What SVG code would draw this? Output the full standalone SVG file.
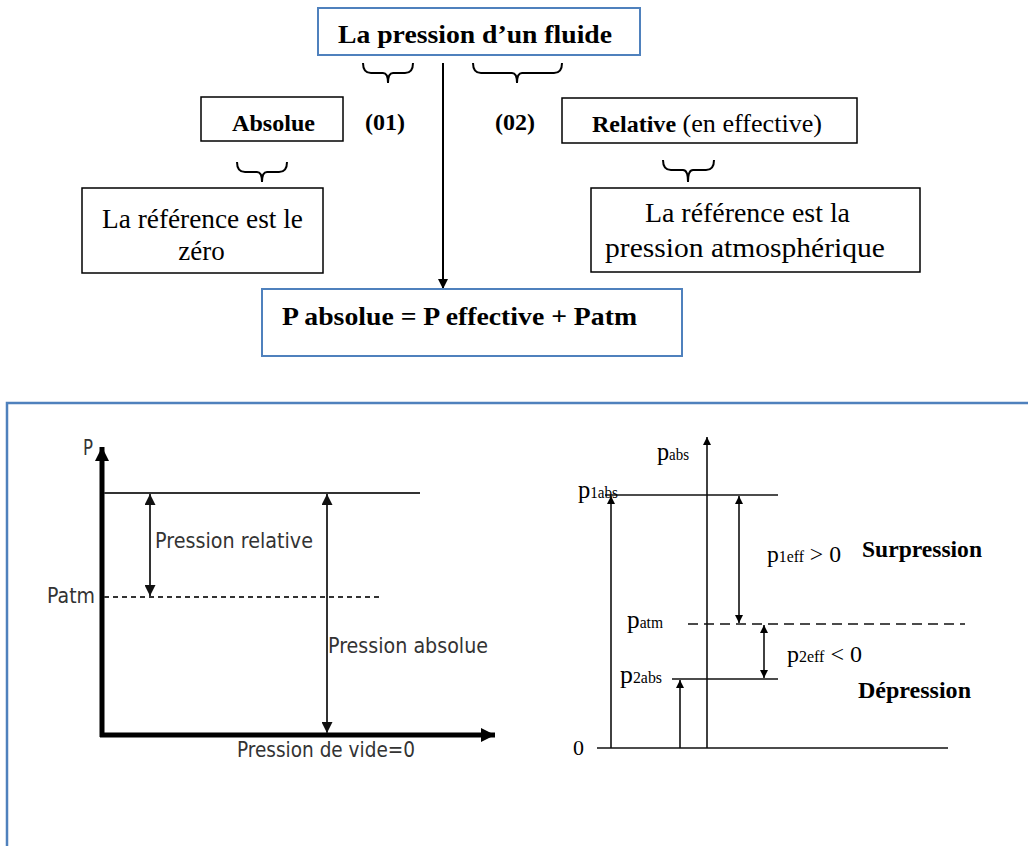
<svg xmlns="http://www.w3.org/2000/svg" width="1028" height="846" viewBox="0 0 1028 846">
<style>
.blue{fill:#fff;stroke:#4f81bd;stroke-width:2}
.box{fill:#fff;stroke:#000;stroke-width:1.5}
.brace{fill:none;stroke:#000;stroke-width:2}
.tb{font-family:"Liberation Serif",serif;font-weight:bold;fill:#000}
.tr{font-family:"Liberation Serif",serif;fill:#000}
.ts{font-family:"DejaVu Sans","Liberation Sans",sans-serif;fill:#333;font-size:21px}
.ln{stroke:#333;stroke-width:2;fill:none}
.rl{stroke:#111;stroke-width:1.6;fill:none}
.sub{font-size:16px}
</style>
<defs>
<marker id="ahL" viewBox="0 0 10 10" refX="10" refY="5" markerUnits="userSpaceOnUse" markerWidth="13" markerHeight="11" orient="auto-start-reverse">
<path d="M0,0 L10,5 L0,10 z" fill="#111"/>
</marker>
<marker id="ahR" viewBox="0 0 10 10" refX="10" refY="5" markerUnits="userSpaceOnUse" markerWidth="12" markerHeight="8" orient="auto-start-reverse">
<path d="M0,0 L10,5 L0,10 z" fill="#000"/>
</marker>
<marker id="ahB" viewBox="0 0 10 10" refX="10" refY="5" markerUnits="userSpaceOnUse" markerWidth="16" markerHeight="14" orient="auto">
<path d="M0,0 L10,5 L0,10 z" fill="#000"/>
</marker>
<marker id="ahT" viewBox="0 0 10 10" refX="10" refY="5" markerUnits="userSpaceOnUse" markerWidth="16" markerHeight="10" orient="auto">
<path d="M0,0 L10,5 L0,10 z" fill="#000"/>
</marker>
</defs>

<g id="connectors">
<line x1="443" y1="63" x2="443" y2="289" stroke="#000" stroke-width="2" marker-end="url(#ahT)"/>
<path class="brace" d="M363,63 Q363,73 371,73 L383,73 Q388,73 388,83 Q388,73 393,73 L405,73 Q413,73 413,63"/>
<path class="brace" d="M473,63 Q473,73 481,73 L512,73 Q517,73 517,83 Q517,73 522,73 L554,73 Q562,73 562,63"/>
<path class="brace" d="M237,162 Q237,172 245,172 L257,172 Q262,172 262,182 Q262,172 267,172 L279,172 Q287,172 287,162"/>
<path class="brace" d="M663,160 Q663,170 671,170 L683,170 Q688,170 688,182 Q688,170 693,170 L706,170 Q714,170 714,160"/>
</g>

<g id="node-fluide">
<rect class="blue" x="318" y="8" width="322" height="47"/>
<text class="tb" x="338" y="43" font-size="26" textLength="274" lengthAdjust="spacingAndGlyphs">La pression d’un fluide</text>
</g>

<g id="node-absolue">
<rect class="box" x="201" y="97" width="142" height="44"/>
<text class="tb" x="232" y="131" font-size="23" textLength="83" lengthAdjust="spacingAndGlyphs">Absolue</text>
</g>

<g id="label-01"><text class="tb" x="365" y="130" font-size="23" textLength="40" lengthAdjust="spacingAndGlyphs">(01)</text></g>
<g id="label-02"><text class="tb" x="495" y="130" font-size="23" textLength="40" lengthAdjust="spacingAndGlyphs">(02)</text></g>

<g id="node-relative">
<rect class="box" x="562" y="98" width="295" height="45"/>
<text class="tr" x="592" y="132" font-size="25" textLength="230" lengthAdjust="spacingAndGlyphs"><tspan font-weight="bold" font-size="23">Relative</tspan> (en effective)</text>
</g>

<g id="node-ref-zero">
<rect class="box" x="82" y="188" width="241" height="85"/>
<text class="tr" x="102" y="228" font-size="27" textLength="201" lengthAdjust="spacingAndGlyphs">La référence est le</text>
<text class="tr" x="201.5" y="260" font-size="27" text-anchor="middle">zéro</text>
</g>

<g id="node-ref-atm">
<rect class="box" x="591" y="188" width="329" height="84"/>
<text class="tr" x="645" y="222" font-size="27" textLength="205" lengthAdjust="spacingAndGlyphs">La référence est la</text>
<text class="tr" x="605" y="257" font-size="27" textLength="280" lengthAdjust="spacingAndGlyphs">pression atmosphérique</text>
</g>

<g id="node-formule">
<rect class="blue" x="262" y="289" width="420" height="67"/>
<text class="tb" x="282" y="325" font-size="25" textLength="355" lengthAdjust="spacingAndGlyphs">P absolue = P effective + Patm</text>
</g>

<g id="frame">
<path d="M1028,403 L7,403 L7,846" fill="none" stroke="#4f81bd" stroke-width="2.5"/>
</g>

<g id="chart-left">
<line x1="102" y1="737" x2="102" y2="447" stroke="#000" stroke-width="5" marker-end="url(#ahB)"/>
<line x1="100" y1="735" x2="495" y2="735" stroke="#000" stroke-width="5" marker-end="url(#ahB)"/>
<line class="ln" x1="104" y1="493" x2="420" y2="493"/>
<line class="ln" x1="104" y1="597" x2="380" y2="597" stroke-dasharray="5,4" stroke-width="1.5"/>
<line class="ln" x1="150" y1="494" x2="150" y2="596" marker-start="url(#ahL)" marker-end="url(#ahL)"/>
<line class="ln" x1="327" y1="494" x2="327" y2="733" marker-start="url(#ahL)" marker-end="url(#ahL)"/>
<text class="ts" x="83" y="455" textLength="10" lengthAdjust="spacingAndGlyphs">P</text>
<text class="ts" x="47" y="603" textLength="48" lengthAdjust="spacingAndGlyphs">Patm</text>
<text class="ts" x="155" y="548" textLength="158" lengthAdjust="spacingAndGlyphs">Pression relative</text>
<text class="ts" x="328" y="653" textLength="160" lengthAdjust="spacingAndGlyphs">Pression absolue</text>
<text class="ts" x="237" y="757" textLength="178" lengthAdjust="spacingAndGlyphs">Pression de vide=0</text>
</g>

<g id="chart-right">
<line class="rl" x1="597" y1="748" x2="948" y2="748"/>
<line class="rl" x1="707" y1="748" x2="707" y2="437" marker-end="url(#ahR)"/>
<line class="rl" x1="605" y1="495" x2="778" y2="495"/>
<line class="rl" x1="672" y1="679" x2="778" y2="679"/>
<line class="rl" x1="688" y1="624" x2="965" y2="624" stroke-dasharray="10,6"/>
<line class="rl" x1="611" y1="748" x2="611" y2="496" marker-end="url(#ahR)"/>
<line class="rl" x1="680" y1="748" x2="680" y2="680" marker-end="url(#ahR)"/>
<line class="rl" x1="739" y1="496" x2="739" y2="623" marker-start="url(#ahR)" marker-end="url(#ahR)"/>
<line class="rl" x1="764" y1="625" x2="764" y2="678" marker-start="url(#ahR)" marker-end="url(#ahR)"/>
<text class="tr" x="657" y="460" font-size="26" textLength="32" lengthAdjust="spacingAndGlyphs">p<tspan class="sub">abs</tspan></text>
<text class="tr" x="578" y="498" font-size="26" textLength="40" lengthAdjust="spacingAndGlyphs">p<tspan class="sub">1abs</tspan></text>
<text class="tr" x="627" y="628" font-size="26" textLength="36" lengthAdjust="spacingAndGlyphs">p<tspan class="sub">atm</tspan></text>
<text class="tr" x="620" y="683" font-size="26" textLength="42" lengthAdjust="spacingAndGlyphs">p<tspan class="sub">2abs</tspan></text>
<text class="tr" x="573" y="755" font-size="22">0</text>
<text class="tr" x="767" y="562" font-size="24" textLength="74" lengthAdjust="spacingAndGlyphs">p<tspan class="sub">1eff</tspan> &gt; 0</text>
<text class="tr" x="787" y="662" font-size="24" textLength="75" lengthAdjust="spacingAndGlyphs">p<tspan class="sub">2eff</tspan> &lt; 0</text>
<text class="tb" x="862" y="557" font-size="24" textLength="120" lengthAdjust="spacingAndGlyphs">Surpression</text>
<text class="tb" x="858" y="698" font-size="24" textLength="113" lengthAdjust="spacingAndGlyphs">Dépression</text>
</g>
</svg>
